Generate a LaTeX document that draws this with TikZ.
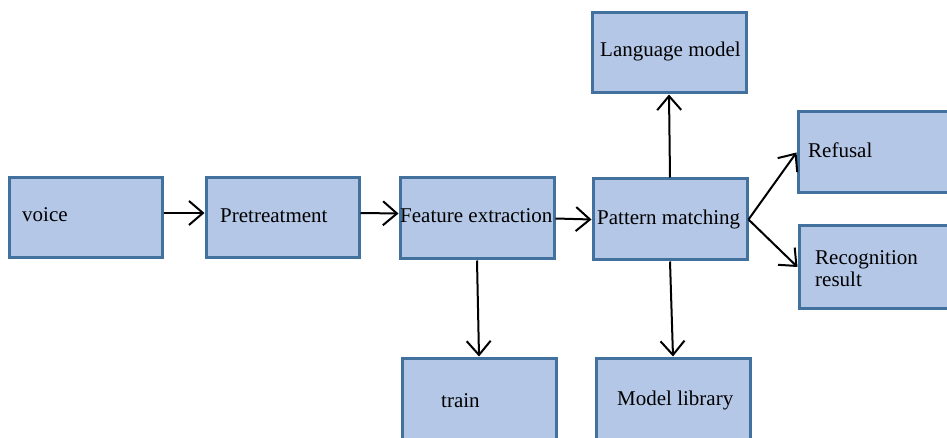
\documentclass[tikz,border=0pt]{standalone}
\usepackage{fontspec}
\setmainfont{Liberation Serif}
\usetikzlibrary{arrows.meta}
\definecolor{boxfill}{HTML}{B4C7E7}
\definecolor{boxline}{HTML}{41719C}
\begin{document}
\begin{tikzpicture}[x=1pt,y=-1pt,
  blk/.style={draw=boxline,fill=boxfill,line width=3pt,inner sep=0pt},
  lbl/.style={anchor=base west,inner sep=0pt,font=\fontsize{21}{24}\selectfont},
  arr/.style={line width=2pt,-{Straight Barb[length=14pt,width=24pt,line width=2pt]}}]
\useasboundingbox (0,0) rectangle (947,438);
\clip (0,0) rectangle (947,438);
% blocks
\node[blk,minimum width=153pt,minimum height=80pt] (voice) at (85.5,218) {};
\node[blk,minimum width=153pt,minimum height=80pt] (pre)   at (282.5,218) {};
\node[blk,minimum width=154pt,minimum height=81pt] (fe)    at (477,218.5) {};
\node[blk,minimum width=154pt,minimum height=81pt] (pm)    at (670,219.5) {};
\node[blk,minimum width=154pt,minimum height=80pt] (lm)    at (669,53) {};
\node[blk,minimum width=160pt,minimum height=81pt] (ref)   at (878,152.5) {};
\node[blk,minimum width=160pt,minimum height=82pt] (rec)   at (879,267) {};
\node[blk,minimum width=154pt,minimum height=92pt] (train) at (479,404) {};
\node[blk,minimum width=154pt,minimum height=92pt] (ml)    at (673,404) {};
% labels
\node[lbl] (tvoice) at (22,222) {voice};
\node[lbl] (tpre)   at (220,223) {Pretreatment};
\node[lbl] (tfe)    at (400,223) {Feature extraction};
\node[lbl] (tpm)    at (597,225) {Pattern matching};
\node[lbl] (tlm)    at (600,57) {Language model};
\node[lbl] (tref)   at (808,158) {Refusal};
\node[lbl] (trec1)  at (815,265) {Recognition};
\node[lbl] (trec2)  at (815,287) {result};
\node[lbl] (ttrain) at (441,407) {train};
\node[lbl] (tml)    at (617,405) {Model library};
% connectors
\draw[arr] ([yshift=5pt]voice.east) -- ([yshift=5pt]pre.west);
\draw[arr] ([yshift=5pt]pre.east) -- ([yshift=5pt]fe.west);
\draw[arr] (fe.east) -- (pm.west);
\draw[arr] (fe.south) -- (train.north);
\draw[arr] (pm.south) -- (ml.north);
\draw[arr] (pm.north) -- (lm.south);
\draw[arr] (pm.east) -- (ref.west);
\draw[arr] (pm.east) -- (rec.west);
\end{tikzpicture}
\end{document}
